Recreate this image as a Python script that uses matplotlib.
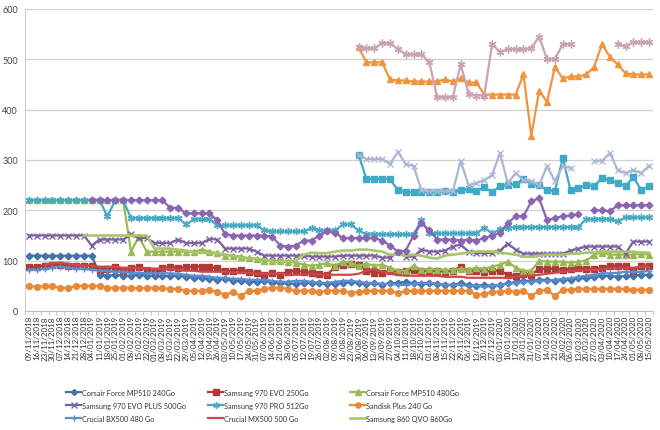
import numpy as np
import pandas as pd
import matplotlib
matplotlib.use("Agg")
import matplotlib.pyplot as plt

plt.rcParams['font.family'] = ['Lato', 'DejaVu Sans']

N = np.nan
dates = pd.date_range('2018-11-09', periods=80, freq='7D').strftime('%d/%m/%Y').tolist()

mp510_240 = ([110] * 9
             + [72, 70, 72, 70, 70, 72, 70, 70, 70, 70, 70]
             + [68, 66, 65, 64, 62, 64, 60, 60, 58, 58, 60]
             + [56, 55, 55, 54, 55, 56, 55, 54, 54, 55, 58, 55, 54, 55, 52]
             + [55, 56, 58, 55, 54, 55, 54, 52, 52, 55, 52, 50, 52, 50, 52]
             + [55, 58, 60, 60, 62, 62, 60, 62, 62, 65, 65, 68, 70, 70, 68, 70, 70, 72, 72])
evo_250 = ([88, 88, 90, 92, 92, 90, 90, 90, 90]
           + [82, 84, 88, 80, 85, 88, 82, 80, 85, 88, 85]
           + [88, 88, 88, 88, 85, 80, 80, 82, 78, 75, 72]
           + [75, 72, 78, 80, 78, 76, 74, 72, 88, 92, 94, 92, 80, 76, 76]
           + [80, 78, 80, 82, 80, 80, 80, 78, 80, 88, 80, 80, 78, 80, 80]
           + [72, 70, 74, 72, 84, 84, 84, 82, 84, 86, 84, 84, 86, 90, 90, 90, 80, 90, 90])
mp510_480 = ([220] * 13
             + [118, 148, 118, 118, 118, 118, 118, 118, 118]
             + [122, 118, 115, 110, 110, 108, 105, 104]
             + [100, 100, 100, 98, 96, 92, 90, 92, 95, 90, 98, 96]
             + [90, 94, 90, 92, 86, 80, 80, 90, 82, 84, 82, 82]
             + [82, 84, 82, 86, 84, 88, 92, 98, 86, 80, 80, 100]
             + [98, 98, 98, 96, 98, 100, 112, 116, 112, 112, 112, 112, 114, 112])
evo_plus_500 = ([150] * 8
                + [130, 142, 142, 142, 142]
                + [152, 145, 145, 135, 135, 135, 142, 135, 135, 135, 143, 142]
                + [124, 124, 124, 124, 118, 110, 110, 110, 110, 110, 110]
                + [108, 108, 108, 108, 110, 110, 110, 110, 110, 106, 106, 118, 108, 108]
                + [122, 118, 118, 120, 128, 132, 118, 115, 115, 115, 120, 134, 122]
                + [114, 114, 114, 114, 114, 114, 120, 124, 128, 128, 128, 128, 128, 114, 138, 138, 138])
pro_512 = ([220] * 10
           + [188, 220, 220]
           + [185] * 7
           + [172, 182, 182, 182, 170, 170, 170, 170, 170, 170]
           + [160, 158, 158, 158, 158, 158, 165, 160, 160, 160]
           + [172, 172, 160, 152, 152, 152, 152, 152, 152, 152]
           + [180, 155, 154, 154, 154, 154, 154, 154, 165, 155]
           + [162, 165, 167, 167, 167, 167, 167, 167, 167, 167]
           + [167, 183, 183, 183, 183, 178, 186, 186, 186, 186])
sandisk_240 = ([50, 48, 50, 50, 45, 46, 50, 50, 50, 50]
               + [46, 46, 46, 46, 45, 46, 46, 45, 44, 44]
               + [40, 40, 40, 42, 38, 32, 38, 30, 40, 40]
               + [44, 46, 46, 44, 40, 40, 40, 38, 40, 40]
               + [40, 36, 38, 40, 40, 40, 40, 36, 40, 40]
               + [40, 40, 40, 40, 40, 40, 40, 32, 34, 38]
               + [38, 40, 38, 40, 30, 40, 42, 30, 42, 42]
               + [44, 44, 44, 44, 44, 44, 44, 42, 42, 42])
bx500_480 = ([82, 82, 84, 86, 88, 86, 84, 84, 82, 80]
             + [80, 78, 78, 76, 76, 75, 75, 75, 75, 74]
             + [72, 70, 70, 68, 66, 66, 64, 64, 62, 62]
             + [62, 60, 58, 58, 60, 60, 58, 56, 56, 58]
             + [60, 60, 58, 56, 56, 54, 54, 52, 52, 54]
             + [56, 56, 54, 52, 52, 52, 50, 50, 48, 50]
             + [52, 54, 56, 58, 58, 60, 60, 62, 64, 65]
             + [68, 70, 72, 75, 75, 76, 78, 78, 78, 80])
mx500_500 = ([N, N, 92, 95, 96, 94, 92, 90, 90, 88]
             + [88, 88, 86, 86, 85, 85, 84, 84, 84, 82]
             + [80, 80, 78, 78, 78, 78, 76, 76, 76, 74]
             + [74, 74, 74, 72, 72, 72, 74, 72, 72, 72]
             + [72, 72, 74, 80, 84, 78, 74, 72, 70, 70]
             + [70, 70, 70, 68, 68, 68, 66, 66, 66, 66]
             + [66, 66, 68, 70, 70, 72, 74, 76, 78, 80]
             + [80, 82, 82, 84, 84, 85, 86, 86, 88, 88])
qvo_860 = ([N] * 7 + [150] * 9
           + [124, 124, 124, 122, 120]
           + [116, 116, 116, 114, 112, 110]
           + [106, 104, 104, 102]
           + [98, 98, 98, 100, 112]
           + [116, 115, 115, 118]
           + [120, 120, 122, 122, 120, 118]
           + [112, 112, 110, 112, 110]
           + [106, 104, 110, 112, 114]
           + [116, 118, 118, 118, 116]
           + [114, 112, 108, 108, 110]
           + [112, 112, 112, 114, 114]
           + [116, 116, 118, 118, 118, 118, 118, 116, 116])

# series shown on the chart but missing from its legend
extra_diamond = ([N] * 8 + [220] * 10
                 + [205, 205, 194, 194, 194, 194, 180]
                 + [152, 150, 150, 150, 150, 150, 148]
                 + [130, 128, 130, 140, 140, 150, 158, 155]
                 + [145, 145, 145, 145, 145, 140, 130, 118, 120, 150]
                 + [175, 160, 142, 142, 142, 140, 142, 140, 145, 150]
                 + [155, 175, 188, 188, 218, 224, 180, 185, 188, 190, 192]
                 + [N]
                 + [200, 200, 198, 210, 210, 210, 210, 210])
extra_triangle = ([N] * 42
                  + [524, 494, 494, 494, 460, 458, 458, 456, 456, 456]
                  + [456, 460, 456, 462, 454, 454, 430, 430, 430, 430]
                  + [430, 470, 348, 438, 415, 485, 462, 466, 466, 470]
                  + [485, 530, 505, 490, 472, 470, 470, 470])
extra_pink = ([N] * 42
              + [524, 522, 522, 532, 532, 520, 510, 510, 510, 495]
              + [425, 425, 425, 490, 432, 428, 428, 530, 515, 520]
              + [520, 520, 522, 545, 500, 500, 530, 530]
              + [N] * 5
              + [530, 526, 534, 534, 534])
extra_square = ([N] * 42
                + [310, 262, 262, 262, 262, 240, 236, 236, 236, 236]
                + [236, 238, 236, 240, 242, 238, 246, 236, 248, 250]
                + [252, 262, 252, 250, 240, 238, 304, 240, 244, 250]
                + [248, 264, 260, 254, 248, 266, 240, 248])
extra_grey = ([N] * 42
              + [310, 302, 302, 302, 292, 316, 292, 288, 240, 238]
              + [238, 238, 238, 298, 250, 254, 260, 270, 314, 254]
              + [274, 260, 258, 250, 288, 258, 288, 284]
              + [N, N]
              + [298, 298, 314, 280, 274, 280, 274, 288])

asterisk = (6, 2, 0)
x = np.arange(len(dates))

fig = plt.figure(figsize=(6.6, 4.31), dpi=100)
ax = fig.add_axes([25 / 660, 1 - 312 / 431, 628 / 660, 302 / 431])

lw = 1.6
ms = 4.2
h = {}
h['Corsair Force MP510 240Go'] = ax.plot(x, mp510_240, color='#4272AC', lw=lw, marker='D', ms=ms - 0.8)[0]
h['Samsung 970 EVO 250Go'] = ax.plot(x, evo_250, color='#AE3B38', lw=lw, marker='s', ms=ms)[0]
h['Corsair Force MP510 480Go'] = ax.plot(x, mp510_480, color='#98B954', lw=lw, marker='^', ms=ms)[0]
h['Samsung 970 EVO PLUS 500Go'] = ax.plot(x, evo_plus_500, color='#7D60A0', lw=lw, marker='x', ms=ms, mew=1)[0]
h['Samsung 970 PRO 512Go'] = ax.plot(x, pro_512, color='#46AAC4', lw=lw, marker=asterisk, ms=ms + 1, mew=1)[0]
h['Sandisk Plus 240 Go'] = ax.plot(x, sandisk_240, color='#E8893A', lw=lw, marker='o', ms=ms)[0]
h['Crucial BX500 480 Go'] = ax.plot(x, bx500_480, color='#5B8ED0', lw=lw, marker='+', ms=ms, mew=1)[0]
h['Crucial MX500 500 Go'] = ax.plot(x, mx500_500, color='#D0474A', lw=lw)[0]
h['Samsung 860 QVO 860Go'] = ax.plot(x, qvo_860, color='#A7C66A', lw=lw + 0.3)[0]

ax.plot(x, extra_diamond, color='#8A66B2', lw=lw, marker='D', ms=ms - 0.8)
ax.plot(x, extra_square, color='#40AAC6', lw=lw, marker='s', ms=ms + 0.6)
ax.plot(x, extra_grey, color='#A9B6D4', lw=lw, marker='x', ms=ms + 0.6, mew=1)
ax.plot(x, extra_triangle, color='#F0943E', lw=lw, marker='^', ms=ms)
ax.plot(x, extra_pink, color='#C9A2B6', lw=lw, marker=asterisk, ms=ms + 1.5, mew=1)

ax.set_xlim(-0.5, len(dates) - 0.5)
ax.set_ylim(0, 600)
ax.set_yticks(range(0, 601, 100))
ax.yaxis.grid(True, color='#D0D0D0', lw=0.9)
ax.set_axisbelow(True)
ax.set_xticks(x)
ax.set_xticklabels(dates, rotation=90, fontsize=5.8, color='#333333')
ax.set_xticks(np.arange(-0.5, len(dates), 1), minor=True)
ax.tick_params(axis='x', which='major', length=0, pad=3)
ax.tick_params(axis='x', which='minor', length=3, color='#BBBBBB', width=0.6)
ax.tick_params(axis='y', length=0, labelsize=6.5, labelcolor='#444444', pad=5)
for s in ['top', 'right']:
    ax.spines[s].set_visible(False)
ax.spines['left'].set_color('#CCCCCC')
ax.spines['bottom'].set_color('#BBBBBB')
ax.spines['left'].set_linewidth(0.7)
ax.spines['bottom'].set_linewidth(0.7)

names = list(h.keys())
col_x = [66, 208, 350]
for c in range(3):
    labels = names[c::3]
    leg = fig.legend([h[n] for n in labels], labels, loc='upper left',
                     bbox_to_anchor=(col_x[c] / 660, 1 - 390 / 431),
                     frameon=False, fontsize=5.3, handlelength=2.1,
                     handletextpad=0.1, labelspacing=0.8, borderpad=0,
                     borderaxespad=0, markerscale=0.9)
    for t in leg.get_texts():
        t.set_color('#333333')

fig.savefig('out.png', dpi=100)
